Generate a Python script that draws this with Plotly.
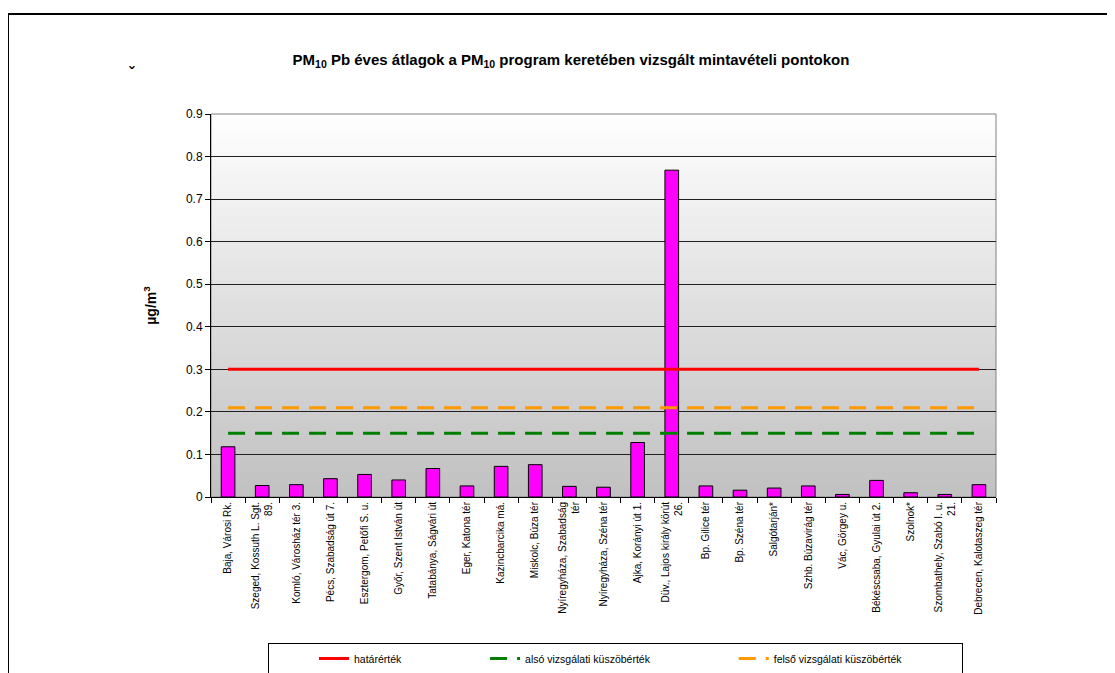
import plotly.graph_objects as go

categories = [
    "Baja, Városi Rk.",
    "Szeged, Kossuth L. Sgt.<br>89.",
    "Komló, Városház tér 3.",
    "Pécs, Szabadság út 7.",
    "Esztergom, Petőfi S. u.",
    "Győr, Szent István út",
    "Tatabánya, Ságvári út",
    "Eger, Katona tér",
    "Kazincbarcika má.",
    "Miskolc, Búza tér",
    "Nyíregyháza, Szabadság<br>tér",
    "Nyíregyháza, Széna tér",
    "Ajka, Korányi út 1.",
    "Düv., Lajos király körút<br>26.",
    "Bp. Gilice tér",
    "Bp. Széna tér",
    "Salgótarján*",
    "Szhb. Búzavirág tér",
    "Vác, Görgey u.",
    "Békéscsaba, Gyulai út 2.",
    "Szolnok*",
    "Szombathely, Szabó I. u.<br>21.",
    "Debrecen, Kalotaszeg tér",
]
pb_values = [0.118, 0.027, 0.029, 0.043, 0.053, 0.040, 0.067, 0.026, 0.072, 0.076,
             0.025, 0.023, 0.128, 0.768, 0.026, 0.016, 0.021, 0.026, 0.006, 0.039,
             0.010, 0.006, 0.029]
limit_value = [0.30] * len(categories)
lower_threshold = [0.15] * len(categories)
upper_threshold = [0.21] * len(categories)
legend_names = ["határérték", "alsó vizsgálati küszöbérték", "felső vizsgálati küszöbérték"]

FONT = "Liberation Sans, Arial, sans-serif"
W, H = 1115, 673
OFF = 8  # page body margin


def fx(px):
    return px - OFF


def fy(py):
    return py - OFF


# plot area in reference pixels: x 211..996, y 114..497
L, R = fx(211), W - fx(996)
T, B = fy(114), H - fy(497)
pw, ph = W - L - R, H - T - B


def paper_x(px):
    return (fx(px) - L) / pw


def paper_y(py):
    return (H - B - fy(py)) / ph


NB = "\u00a0"
pad_mid = NB * 27
pad_end = NB * 19

fig = go.Figure()
fig.add_trace(go.Bar(
    x=categories, y=pb_values, width=0.4,
    marker=dict(color="#FF00FF", line=dict(color="#000000", width=1)),
    showlegend=False, hoverinfo="x+y",
))
fig.add_trace(go.Scatter(x=categories, y=limit_value, mode="lines", name=legend_names[0] + pad_mid,
                         line=dict(color="#FF0000", width=3)))
fig.add_trace(go.Scatter(x=categories, y=lower_threshold, mode="lines", name=legend_names[1] + pad_mid,
                         line=dict(color="#008000", width=3, dash="17px,10px")))
fig.add_trace(go.Scatter(x=categories, y=upper_threshold, mode="lines", name=legend_names[2] + pad_end,
                         line=dict(color="#FF9900", width=3, dash="17px,10px")))

shapes = []
n = 60
top_c, bot_c = 255, 192
for i in range(n):
    f = (i + 0.5) / n
    c = round(bot_c + (top_c - bot_c) * f)
    shapes.append(dict(type="rect", xref="x domain", yref="y domain",
                       x0=0, x1=1, y0=i / n, y1=(i + 1) / n + 0.002,
                       fillcolor=f"rgb({c},{c},{c})", line=dict(width=0), layer="below"))
shapes.append(dict(type="rect", xref="x domain", yref="y domain", x0=0, x1=1, y0=0, y1=1,
                   line=dict(color="#808080", width=1), layer="below"))
# outer frame
shapes.append(dict(type="rect", xref="paper", yref="paper",
                   x0=paper_x(8), x1=paper_x(1140),
                   y0=paper_y(700), y1=paper_y(14),
                   line=dict(color="#000000", width=2)))

fig.update_layout(
    width=W, height=H,
    margin=dict(l=L, r=R, t=T, b=B, autoexpand=False),
    paper_bgcolor="white", plot_bgcolor="rgba(0,0,0,0)",
    font=dict(family=FONT, size=11, color="black"),
    title=dict(text="PM<sub>10</sub> Pb éves átlagok a PM<sub>10</sub> program keretében vizsgált mintavételi pontokon",
               x=fx(571) / W, xanchor="center", y=1 - fy(60) / H, yanchor="middle",
               font=dict(family=FONT, size=15, color="black", weight="bold")),
    shapes=shapes,
    legend=dict(orientation="h", xref="container", yref="container",
                x=fx(268) / W, xanchor="left",
                y=1 - fy(643) / H, yanchor="top",
                bordercolor="#000000", borderwidth=1, bgcolor="white",
                font=dict(family=FONT, size=10.5), itemwidth=30,
                title=dict(text=NB * 12, side="left", font=dict(family=FONT, size=10.5))),
    annotations=[dict(text="ˇ", xref="paper", yref="paper", x=paper_x(127),
                      y=paper_y(63), showarrow=False,
                      font=dict(family=FONT, size=16, color="black", weight="bold"))],
)
fig.update_xaxes(
    type="category", tickangle=-90, tickfont=dict(family=FONT, size=10),
    showline=True, linecolor="black", linewidth=1, automargin=False,
    ticks="outside", ticklen=5, tickcolor="black", tickson="boundaries",
    showgrid=False, range=[-0.5, len(categories) - 0.5],
)
fig.update_yaxes(
    range=[0, 0.9], dtick=0.1, tickformat="~g", automargin=False,
    showline=True, linecolor="black", linewidth=1,
    ticks="outside", ticklen=5, tickcolor="black",
    showgrid=True, gridcolor="#202020", gridwidth=1, zeroline=False,
    tickfont=dict(family=FONT, size=12),
    title=dict(text="µg/m<sup>3</sup>", standoff=26,
               font=dict(family=FONT, size=14, weight="bold")),
)
fig.write_html("out.html")
